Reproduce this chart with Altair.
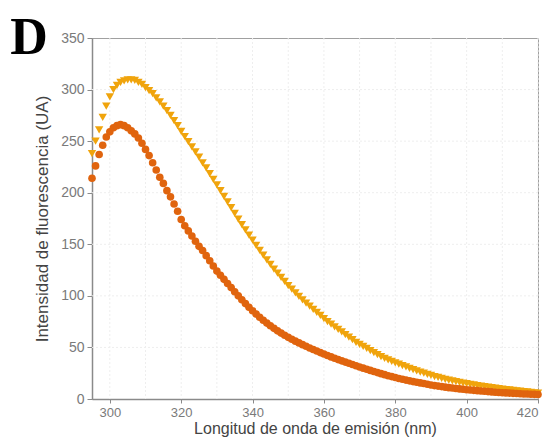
import altair as alt
import pandas as pd

wavelength = list(range(295, 421))

yellow_vals = [
    238, 250, 261, 273, 284, 293, 300, 304, 307, 308.5,        # 295-304
    309.5, 309.5, 309, 307, 305, 302, 299, 296, 292, 288,      # 305-314
    284, 279.5, 275, 270, 265, 259.5, 254.5, 249.5, 244.5, 239.5,  # 315-324
    234.5, 229, 224, 218.5, 213, 207.5, 202, 196.5, 191, 185.5,    # 325-334
    180, 174.5, 169, 164, 159, 154, 149, 144, 139.5, 135,      # 335-344
    130.5, 126, 122, 118, 114, 110, 106.5, 103, 99.5, 96,      # 345-354
    93, 90, 87, 84, 81, 78, 75, 72.5, 70, 67.5,                # 355-364
    65, 62.5, 60, 57.5, 55, 53, 51, 49, 47, 45,                # 365-374
    43, 41, 39.5, 38, 36.5, 35, 33.7, 32.4, 31.1, 29.8,        # 375-384
    28.5, 27.3, 26.1, 25, 23.9, 22.8, 21.8, 20.9, 20, 19.1,    # 385-394
    18.3, 17.5, 16.8, 16.1, 15.4, 14.8, 14.2, 13.6, 13, 12.5,  # 395-404
    12, 11.5, 11, 10.5, 10, 9.6, 9.2, 8.8, 8.4, 8,             # 405-414
    7.6, 7.2, 6.8, 6.4, 6, 5.6,                                # 415-420
]

orange_vals = [
    214, 226, 237, 246, 254, 259, 263, 265, 266, 265,          # 295-304
    263, 260, 257, 253, 248, 242, 236, 229, 222, 215,          # 305-314
    209, 202, 196, 189, 182, 174, 168, 163, 158, 153,          # 315-324
    148, 144, 139, 134, 129, 124, 120, 116, 112, 108,          # 325-334
    104, 100, 96.2, 92.5, 89, 85.6, 82.4, 79.3, 76.4, 73.6,    # 335-344
    71, 68.5, 66.1, 63.9, 61.8, 59.8, 57.9, 56.1, 54.4, 52.7,  # 345-354
    51.1, 49.5, 48, 46.5, 45, 43.6, 42.2, 40.8, 39.5, 38.2,    # 355-364
    37, 35.8, 34.6, 33.4, 32.2, 31, 29.9, 28.8, 27.7, 26.6,    # 365-374
    25.6, 24.6, 23.6, 22.6, 21.7, 20.8, 19.9, 19.1, 18.3, 17.6,  # 375-384
    16.9, 16.2, 15.6, 15, 14.3, 13.6, 13, 12.5, 12, 11.5,      # 385-394
    11, 10.6, 10.2, 9.8, 9.4, 9, 8.7, 8.4, 8.1, 7.8,           # 395-404
    7.5, 7.2, 6.9, 6.6, 6.3, 6.1, 5.9, 5.7, 5.5, 5.3,          # 405-414
    5.1, 4.9, 4.8, 4.6, 4.5, 4.4,                              # 415-420
]

x_ticks = [300, 320, 340, 360, 380, 400, 420]
y_ticks = [0, 50, 100, 150, 200, 250, 300, 350]

df_y = pd.DataFrame({"wl": wavelength, "val": yellow_vals})
df_o = pd.DataFrame({"wl": wavelength, "val": orange_vals})

FONT = "Liberation Sans"

x_scale = alt.Scale(domain=[295, 420], nice=False, zero=False)
y_scale = alt.Scale(domain=[0, 350], nice=False)

x_enc = alt.X(
    "wl:Q",
    scale=x_scale,
    axis=alt.Axis(
        title="Longitud de onda de emisión (nm)",
        values=x_ticks,
        format="d",
        tickSize=4,
        labelPadding=3,
        labelFontSize=13,
        titlePadding=1,
        titleFontSize=16,
    ),
)
y_enc = alt.Y(
    "val:Q",
    scale=y_scale,
    axis=alt.Axis(
        title="Intensidad de fluorescencia (UA)",
        values=y_ticks,
        tickSize=5,
        labelPadding=3,
        labelFontSize=14,
        titlePadding=9,
        titleFontSize=17,
    ),
)

# light grid (x every 10 nm, y every 50)
grid_x = alt.Chart(pd.DataFrame({"g": list(range(300, 421, 10))})).mark_rule(
    color="#eeeeee", strokeDash=[2, 2], strokeWidth=1
).encode(x=alt.X("g:Q", scale=x_scale))
grid_y = alt.Chart(pd.DataFrame({"g": y_ticks[1:-1]})).mark_rule(
    color="#eeeeee", strokeDash=[2, 2], strokeWidth=1
).encode(y=alt.Y("g:Q", scale=y_scale))

yellow = alt.Chart(df_y).mark_point(
    shape="triangle-down", filled=True, size=70, color="#F0A40C", opacity=1
).encode(x=x_enc, y=y_enc)

orange = alt.Chart(df_o).mark_point(
    shape="circle", filled=True, size=58, color="#E0640E", opacity=1
).encode(x=x_enc, y=y_enc)

label = alt.Chart(pd.DataFrame({"t": ["D"]})).mark_text(
    font="Liberation Serif", fontWeight="bold", fontSize=52, color="#000",
    align="center", baseline="alphabetic",
).encode(text="t:N", x=alt.value(-63), y=alt.value(16))

chart = alt.layer(grid_x, grid_y, yellow, orange, label).properties(
    width=446,
    height=361,
    autosize=alt.AutoSizeParams(type="none"),
    padding={"left": 84, "top": 30, "right": 6, "bottom": 39},
).configure_view(
    stroke="#a0a0a0", strokeWidth=1
).configure_axis(
    grid=False,
    domainColor="#8a8a8a",
    domainWidth=1.5,
    tickColor="#8a8a8a",
    tickWidth=1,
    labelColor="#7a7a7a",
    labelFont=FONT,
    titleColor="#444444",
    titleFont=FONT,
    titleFontWeight="normal",
)

chart.save("out.html", embed_options={"renderer": "svg", "actions": False})
